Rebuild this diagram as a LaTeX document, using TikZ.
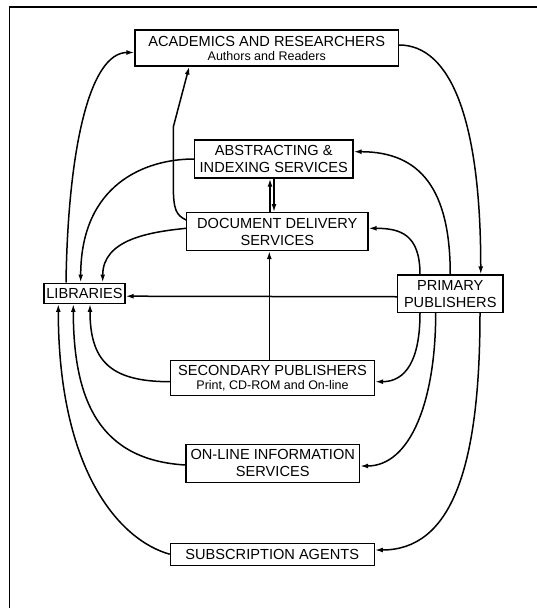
\documentclass[tikz,border=0pt]{standalone}
\usepackage{fontspec}
\setmainfont{Liberation Sans}
\usetikzlibrary{arrows.meta}
\begin{document}
\begin{tikzpicture}[x=1pt,y=-1pt,
  box/.style={draw,line width=1.1pt,inner sep=0pt,align=center,
    font=\fontsize{14.6}{17}\selectfont},
  link/.style={line width=1.5pt},
  arr/.style={link,-{Latex[length=8pt,width=4.8pt]}}]
\useasboundingbox (0,0) rectangle (537,608);
% frame
\draw[line width=1.3pt] (9.2,608) -- (9.2,7) -- (537,7);

% boxes
\node[box,minimum width=263.5pt,minimum height=36pt] (acad) at (266.75,48)
  {ACADEMICS AND RESEARCHERS\\[-3pt]{\fontsize{12.5}{14}\selectfont Authors and Readers}};
\node[box,minimum width=158.5pt,minimum height=38pt] (abst) at (273.75,159)
  {ABSTRACTING \&\\INDEXING SERVICES};
\node[box,minimum width=181.3pt,minimum height=37.8pt] (docd) at (277.3,231.6)
  {DOCUMENT DELIVERY\\SERVICES};
\node[box,minimum width=81pt,minimum height=20.3pt] (lib) at (84.5,293.2)
  {LIBRARIES};
\node[box,minimum width=105.5pt,minimum height=37.5pt] (prim) at (450.25,293.75)
  {PRIMARY\\PUBLISHERS};
\node[box,minimum width=204pt,minimum height=35pt] (sec) at (272.5,378)
  {SECONDARY PUBLISHERS\\[-3pt]{\fontsize{12.5}{14}\selectfont Print, CD-ROM and On-line}};
\node[box,minimum width=173.5pt,minimum height=37.7pt] (online) at (272.75,463.2)
  {ON-LINE INFORMATION\\SERVICES};
\node[box,minimum width=204pt,minimum height=21.7pt] (subs) at (272.25,554.2)
  {SUBSCRIPTION AGENTS};

% libraries <-> academics
\draw[arr] ([xshift=-18.5pt]lib.north) .. controls +(2,-133) and +(-45,0) .. ([yshift=-4.5pt]acad.west);
% academics -> primary publishers
\draw[arr] ([yshift=3pt]acad.east) .. controls +(51.5,0) and +(0,-155) .. ([xshift=30.5pt]prim.north);
% document delivery -> academics (with a bend)
\coordinate (bendlow) at (173.3,185);
\coordinate (bendhigh) at (173.3,127);
\draw[arr] ([yshift=11.6pt]docd.west) .. controls +(-10,-5) and +(0,25) .. (bendlow)
  -- (bendhigh) -- ([xshift=-77.5pt]acad.south);
% abstracting -> libraries
\draw[arr] (abst.west) .. controls +(-49,0) and +(0,-98) .. ([xshift=-3.8pt]lib.north);
% document delivery -> libraries
\draw[arr] ([yshift=3.3pt]docd.west) .. controls +(-36.7,3.7) and +(0,-43) .. ([xshift=18.2pt]lib.north);
% primary publishers -> libraries
\draw[arr] ([yshift=-3pt]prim.west) -- ([yshift=-3pt]lib.east);
% primary publishers -> document delivery
\draw[arr] ([xshift=-30.25pt]prim.north) .. controls +(0,-40) and +(32,0) .. ([yshift=3.3pt]docd.east);
% primary publishers -> abstracting
\draw[arr] (prim.north) .. controls +(0,-85) and +(67,0) .. ([yshift=7.3pt]abst.east);
% secondary publishers -> document delivery
\draw[arr] ([xshift=-3.2pt]sec.north) -- ([xshift=-8pt]docd.south);
% document delivery <-> abstracting
\draw[arr] ([xshift=-7.3pt]docd.north) -- ([xshift=-3.75pt]abst.south);
\draw[arr] ([xshift=0.25pt]abst.south) -- ([xshift=-3.3pt]docd.north);
% lower services -> libraries
\draw[arr] ([yshift=-3.7pt]sec.west) .. controls +(-60,0) and +(0,56.7) .. ([xshift=5.5pt]lib.south);
\draw[arr] ([yshift=-1.8pt]online.west) .. controls +(-86,-5) and +(0,96.7) .. ([xshift=-11.2pt]lib.south);
\draw[arr] (subs.west) .. controls +(-50.2,-14) and +(0,166.7) .. ([xshift=-26.2pt]lib.south);
% primary publishers -> lower services
\draw[arr] ([xshift=-30.25pt]prim.south) .. controls +(0,47.5) and +(30.5,0) .. ([yshift=-3.7pt]sec.east);
\draw[arr] ([xshift=-14.55pt]prim.south) .. controls +(0,87.5) and +(50.5,0) .. ([yshift=-2.8pt]online.east);
\draw[arr] ([xshift=29.75pt]prim.south) .. controls +(0,157.5) and +(75.7,0) .. ([yshift=4.2pt]subs.east);
\end{tikzpicture}
\end{document}
